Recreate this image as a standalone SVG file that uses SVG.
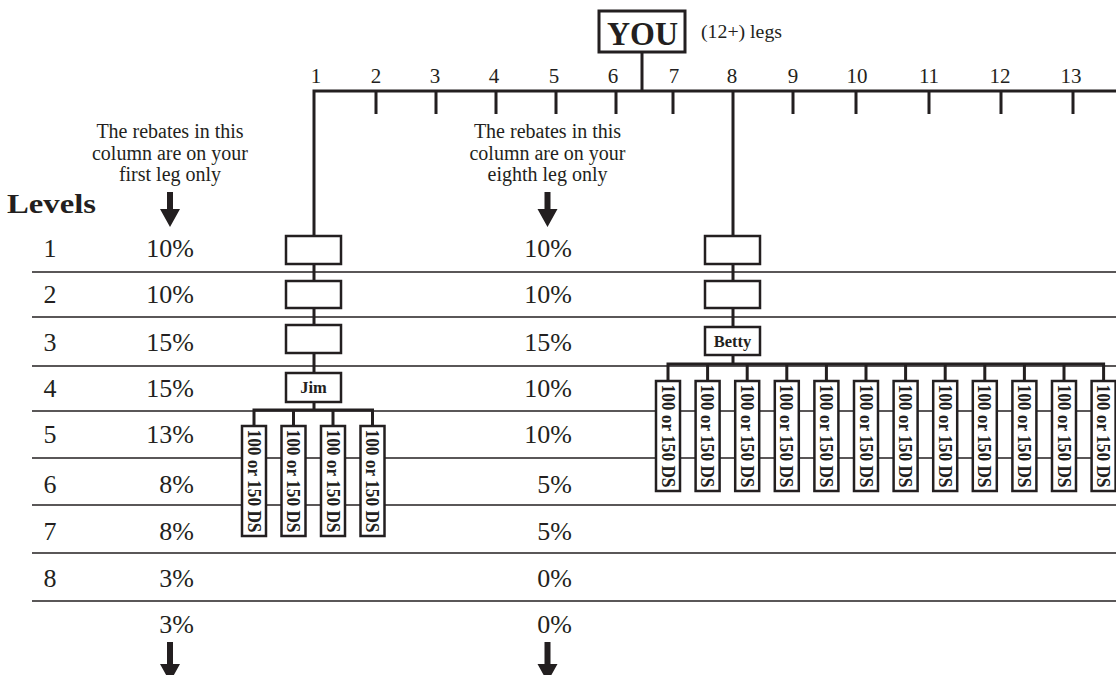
<svg xmlns="http://www.w3.org/2000/svg" width="1116" height="675" viewBox="0 0 1116 675">
<style>
text{font-family:"Liberation Serif","Times New Roman",serif;fill:#231f20}
.num{font-size:21px;text-anchor:middle}
.pct{font-size:26px;text-anchor:end}
.lvl{font-size:26px;text-anchor:middle}
.hdr{font-size:20px;text-anchor:middle}
.ds{font-size:18px;font-weight:bold;text-anchor:middle}
.nm{font-size:16.5px;font-weight:bold;text-anchor:middle}
.ln{stroke:#231f20;stroke-width:3;fill:none}
.row{stroke:#231f20;stroke-width:1.5}
.box{fill:#fff;stroke:#231f20;stroke-width:2.5}
.arr{fill:#231f20}
</style>
<rect width="1116" height="675" fill="#fff"/>
<g id="rows">
<line class="row" x1="32" y1="272" x2="1116" y2="272"/>
<line class="row" x1="32" y1="317" x2="1116" y2="317"/>
<line class="row" x1="32" y1="366" x2="1116" y2="366"/>
<line class="row" x1="32" y1="411" x2="1116" y2="411"/>
<line class="row" x1="32" y1="458" x2="1116" y2="458"/>
<line class="row" x1="32" y1="505" x2="1116" y2="505"/>
<line class="row" x1="32" y1="553" x2="1116" y2="553"/>
<line class="row" x1="32" y1="601" x2="1116" y2="601"/>
</g>
<g id="connectors">
<line class="ln" x1="642" y1="52" x2="642" y2="91"/>
<path class="ln" d="M314,410 V91 H1116"/>
<path class="ln" d="M376,91V114 M436,91V114 M496,91V114 M556,91V114 M616,91V114 M673,91V114 M793,91V114 M856,91V114 M929,91V114 M1001,91V114 M1073,91V114"/>
<line class="ln" x1="733" y1="91" x2="733" y2="364"/>
<path class="ln" d="M254,426 V410 H372.5 V426 M293.5,410 V426 M333,410 V426"/>
<path class="ln" d="M668,381 V364 H1103.6 V381 M707.6,364V381 M747.2,364V381 M786.8,364V381 M826.4,364V381 M866,364V381 M905.6,364V381 M945.2,364V381 M984.8,364V381 M1024.4,364V381 M1064,364V381"/>
</g>
<g id="you">
<rect x="599" y="11" width="86" height="41" fill="#fff" stroke="#231f20" stroke-width="3"/>
<text x="642.5" y="45" font-size="33" font-weight="bold" text-anchor="middle" textLength="71" lengthAdjust="spacingAndGlyphs">YOU</text>
<text x="701" y="38" font-size="19" textLength="81" lengthAdjust="spacingAndGlyphs">(12+) legs</text>
</g>
<g id="leg-numbers">
<text class="num" x="316" y="83">1</text>
<text class="num" x="376" y="83">2</text>
<text class="num" x="435" y="83">3</text>
<text class="num" x="494" y="83">4</text>
<text class="num" x="554" y="83">5</text>
<text class="num" x="613" y="83">6</text>
<text class="num" x="674" y="83">7</text>
<text class="num" x="732" y="83">8</text>
<text class="num" x="793" y="83">9</text>
<text class="num" x="857" y="83">10</text>
<text class="num" x="929" y="83">11</text>
<text class="num" x="1000" y="83">12</text>
<text class="num" x="1071" y="83">13</text>
</g>
<g id="header-col1">
<text class="hdr" x="170" y="138">The rebates in this</text>
<text class="hdr" x="170" y="159.5">column are on your</text>
<text class="hdr" x="170" y="181">first leg only</text>
<path class="arr" d="M167,192 H173 V209 H180 L170,227 L160,209 H167 Z"/>
</g>
<g id="header-col2">
<text class="hdr" x="547.5" y="138">The rebates in this</text>
<text class="hdr" x="547.5" y="159.5">column are on your</text>
<text class="hdr" x="547.5" y="181">eighth leg only</text>
<path class="arr" d="M544.5,192 H550.5 V209 H557.5 L547.5,227 L537.5,209 H544.5 Z"/>
</g>
<g id="levels">
<text x="7" y="213" font-size="27" font-weight="bold" textLength="89" lengthAdjust="spacingAndGlyphs">Levels</text>
<text class="lvl" x="50" y="257">1</text>
<text class="lvl" x="50" y="303">2</text>
<text class="lvl" x="50" y="351">3</text>
<text class="lvl" x="50" y="397">4</text>
<text class="lvl" x="50" y="443">5</text>
<text class="lvl" x="50" y="493">6</text>
<text class="lvl" x="50" y="540">7</text>
<text class="lvl" x="50" y="587">8</text>
</g>
<g id="col1">
<text class="pct" x="194" y="257">10%</text>
<text class="pct" x="194" y="303">10%</text>
<text class="pct" x="194" y="351">15%</text>
<text class="pct" x="194" y="397">15%</text>
<text class="pct" x="194" y="443">13%</text>
<text class="pct" x="194" y="493">8%</text>
<text class="pct" x="194" y="540">8%</text>
<text class="pct" x="194" y="587">3%</text>
<text class="pct" x="194" y="633">3%</text>
<path class="arr" d="M167,642 H173 V664 H180 L170,682 L160,664 H167 Z"/>
</g>
<g id="col2">
<text class="pct" x="572" y="257">10%</text>
<text class="pct" x="572" y="303">10%</text>
<text class="pct" x="572" y="351">15%</text>
<text class="pct" x="572" y="397">10%</text>
<text class="pct" x="572" y="443">10%</text>
<text class="pct" x="572" y="493">5%</text>
<text class="pct" x="572" y="540">5%</text>
<text class="pct" x="572" y="587">0%</text>
<text class="pct" x="572" y="633">0%</text>
<path class="arr" d="M544.5,642 H550.5 V664 H557.5 L547.5,682 L537.5,664 H544.5 Z"/>
</g>
<g id="leg1">
<rect class="box" x="286" y="236" width="55" height="28"/>
<rect class="box" x="286" y="281" width="55" height="27"/>
<rect class="box" x="286" y="325" width="55" height="28"/>
</g>
<g id="jim">
<rect class="box" x="286" y="373" width="55" height="29"/>
<text class="nm" x="313.5" y="393">Jim</text>
</g>
<g id="jim-ds">
<rect class="box" x="242" y="426" width="24" height="110"/>
<rect class="box" x="281.5" y="426" width="24" height="110"/>
<rect class="box" x="321" y="426" width="24" height="110"/>
<rect class="box" x="360.5" y="426" width="24" height="110"/>
<text class="ds" transform="translate(254,481) rotate(90)" dy="0.35em" textLength="103" lengthAdjust="spacingAndGlyphs">100 or 150 DS</text>
<text class="ds" transform="translate(293.5,481) rotate(90)" dy="0.35em" textLength="103" lengthAdjust="spacingAndGlyphs">100 or 150 DS</text>
<text class="ds" transform="translate(333,481) rotate(90)" dy="0.35em" textLength="103" lengthAdjust="spacingAndGlyphs">100 or 150 DS</text>
<text class="ds" transform="translate(372.5,481) rotate(90)" dy="0.35em" textLength="103" lengthAdjust="spacingAndGlyphs">100 or 150 DS</text>
</g>
<g id="leg8">
<rect class="box" x="705" y="236" width="55" height="28"/>
<rect class="box" x="705" y="281" width="55" height="27"/>
</g>
<g id="betty">
<rect class="box" x="705" y="327" width="55" height="28"/>
<text class="nm" x="732.5" y="347">Betty</text>
</g>
<g id="betty-ds">
<rect class="box" x="656" y="381" width="24" height="110"/>
<rect class="box" x="695.6" y="381" width="24" height="110"/>
<rect class="box" x="735.2" y="381" width="24" height="110"/>
<rect class="box" x="774.8" y="381" width="24" height="110"/>
<rect class="box" x="814.4" y="381" width="24" height="110"/>
<rect class="box" x="854" y="381" width="24" height="110"/>
<rect class="box" x="893.6" y="381" width="24" height="110"/>
<rect class="box" x="933.2" y="381" width="24" height="110"/>
<rect class="box" x="972.8" y="381" width="24" height="110"/>
<rect class="box" x="1012.4" y="381" width="24" height="110"/>
<rect class="box" x="1052" y="381" width="24" height="110"/>
<rect class="box" x="1091.6" y="381" width="24" height="110"/>
<text class="ds" transform="translate(668,436) rotate(90)" dy="0.35em" textLength="103" lengthAdjust="spacingAndGlyphs">100 or 150 DS</text>
<text class="ds" transform="translate(707.6,436) rotate(90)" dy="0.35em" textLength="103" lengthAdjust="spacingAndGlyphs">100 or 150 DS</text>
<text class="ds" transform="translate(747.2,436) rotate(90)" dy="0.35em" textLength="103" lengthAdjust="spacingAndGlyphs">100 or 150 DS</text>
<text class="ds" transform="translate(786.8,436) rotate(90)" dy="0.35em" textLength="103" lengthAdjust="spacingAndGlyphs">100 or 150 DS</text>
<text class="ds" transform="translate(826.4,436) rotate(90)" dy="0.35em" textLength="103" lengthAdjust="spacingAndGlyphs">100 or 150 DS</text>
<text class="ds" transform="translate(866,436) rotate(90)" dy="0.35em" textLength="103" lengthAdjust="spacingAndGlyphs">100 or 150 DS</text>
<text class="ds" transform="translate(905.6,436) rotate(90)" dy="0.35em" textLength="103" lengthAdjust="spacingAndGlyphs">100 or 150 DS</text>
<text class="ds" transform="translate(945.2,436) rotate(90)" dy="0.35em" textLength="103" lengthAdjust="spacingAndGlyphs">100 or 150 DS</text>
<text class="ds" transform="translate(984.8,436) rotate(90)" dy="0.35em" textLength="103" lengthAdjust="spacingAndGlyphs">100 or 150 DS</text>
<text class="ds" transform="translate(1024.4,436) rotate(90)" dy="0.35em" textLength="103" lengthAdjust="spacingAndGlyphs">100 or 150 DS</text>
<text class="ds" transform="translate(1064,436) rotate(90)" dy="0.35em" textLength="103" lengthAdjust="spacingAndGlyphs">100 or 150 DS</text>
<text class="ds" transform="translate(1103.6,436) rotate(90)" dy="0.35em" textLength="103" lengthAdjust="spacingAndGlyphs">100 or 150 DS</text>
</g>
</svg>
